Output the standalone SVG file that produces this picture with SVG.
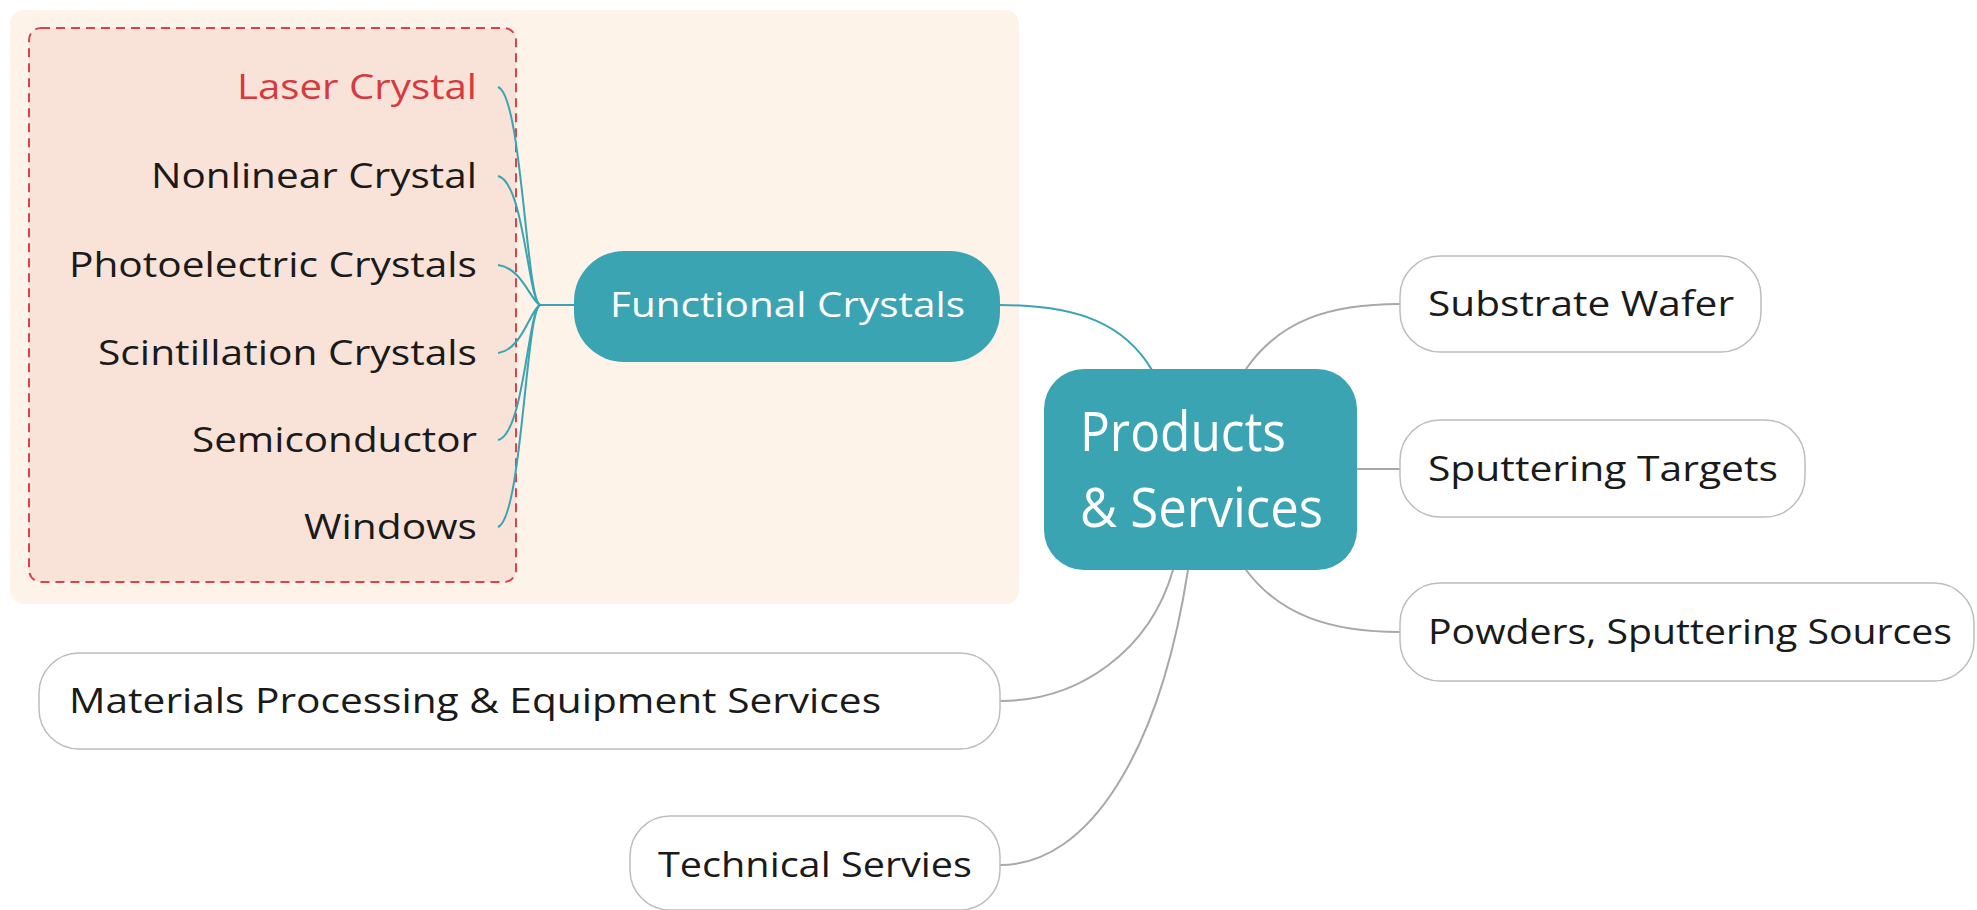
<svg xmlns="http://www.w3.org/2000/svg" width="1977" height="910" viewBox="0 0 1977 910">
<style>
.t{font-family:"Open Sans","Liberation Sans",sans-serif;font-size:35px;fill:#1a1a1a}
.w{fill:#ffffff}
.pill{fill:#ffffff;stroke:#bdbdbd;stroke-width:1.5}
.teal{fill:#3aa4b3}
.tc{fill:none;stroke:#3aa4b3;stroke-width:2}
.gc{fill:none;stroke:#a8a8a8;stroke-width:2}
</style>
<rect width="1977" height="910" fill="#ffffff"/>
<g id="boundary">
<rect x="10" y="10" width="1009" height="594" rx="14" fill="#fdf3e8"/>
<rect x="29" y="28" width="487" height="554" rx="12" fill="#f9e3d8" stroke="#d9434b" stroke-width="2" stroke-dasharray="9,6"/>
</g>
<g id="connectors">
<path class="tc" d="M574,305 H540"/>
<path class="tc" d="M540,305 C526,300 522,96 498,87"/>
<path class="tc" d="M540,305 C528,300 524,182 498,176"/>
<path class="tc" d="M540,305 C530,300 522,268 498,265"/>
<path class="tc" d="M540,305 C530,310 522,350 498,353"/>
<path class="tc" d="M540,305 C528,310 524,434 498,440"/>
<path class="tc" d="M540,305 C526,310 522,518 498,527"/>
<path class="tc" d="M1000,305 C1080,305 1125,325 1152,370"/>
<path class="gc" d="M1246,369 C1280,320 1330,304 1400,304"/>
<path class="gc" d="M1357,469 H1400"/>
<path class="gc" d="M1246,570 C1280,615 1330,632 1400,632"/>
<path class="gc" d="M1173,570 C1150,650 1080,701 1000,701"/>
<path class="gc" d="M1188,570 C1160,750 1090,865 1000,865"/>
</g>
<g id="laser-crystal"><text class="t" x="477" y="99" text-anchor="end" textLength="240" lengthAdjust="spacingAndGlyphs" style="fill:#d63a3f">Laser Crystal</text></g>
<g id="nonlinear-crystal"><text class="t" x="477" y="188" text-anchor="end" textLength="326" lengthAdjust="spacingAndGlyphs">Nonlinear Crystal</text></g>
<g id="photoelectric-crystals"><text class="t" x="477" y="277" text-anchor="end" textLength="408" lengthAdjust="spacingAndGlyphs">Photoelectric Crystals</text></g>
<g id="scintillation-crystals"><text class="t" x="477" y="365" text-anchor="end" textLength="379" lengthAdjust="spacingAndGlyphs">Scintillation Crystals</text></g>
<g id="semiconductor"><text class="t" x="477" y="452" text-anchor="end" textLength="285" lengthAdjust="spacingAndGlyphs">Semiconductor</text></g>
<g id="windows"><text class="t" x="477" y="539" text-anchor="end" textLength="173" lengthAdjust="spacingAndGlyphs">Windows</text></g>
<g id="functional-crystals">
<rect class="teal" x="574" y="251" width="426" height="111" rx="50"/>
<text class="t w" x="610" y="317" textLength="355" lengthAdjust="spacingAndGlyphs">Functional Crystals</text>
</g>
<g id="products-services">
<rect class="teal" x="1044" y="369" width="313" height="201" rx="40"/>
<text class="t w" x="1080" y="451" style="font-size:55px" textLength="206" lengthAdjust="spacingAndGlyphs">Products</text>
<text class="t w" x="1080" y="527" style="font-size:55px" textLength="243" lengthAdjust="spacingAndGlyphs">&amp; Services</text>
</g>
<g id="substrate-wafer">
<rect class="pill" x="1400" y="256" width="361" height="96" rx="40"/>
<text class="t" x="1428" y="316" textLength="306" lengthAdjust="spacingAndGlyphs">Substrate Wafer</text>
</g>
<g id="sputtering-targets">
<rect class="pill" x="1400" y="420" width="405" height="97" rx="40"/>
<text class="t" x="1428" y="481" textLength="350" lengthAdjust="spacingAndGlyphs">Sputtering Targets</text>
</g>
<g id="powders">
<rect class="pill" x="1400" y="583" width="574" height="98" rx="40"/>
<text class="t" x="1428" y="644" textLength="524" lengthAdjust="spacingAndGlyphs">Powders, Sputtering Sources</text>
</g>
<g id="materials-processing">
<rect class="pill" x="39" y="653" width="961" height="96" rx="40"/>
<text class="t" x="69" y="713" textLength="812" lengthAdjust="spacingAndGlyphs">Materials Processing &amp; Equipment Services</text>
</g>
<g id="technical-servies">
<rect class="pill" x="630" y="816" width="370" height="94" rx="40"/>
<text class="t" x="658" y="877" textLength="314" lengthAdjust="spacingAndGlyphs">Technical Servies</text>
</g>
</svg>
